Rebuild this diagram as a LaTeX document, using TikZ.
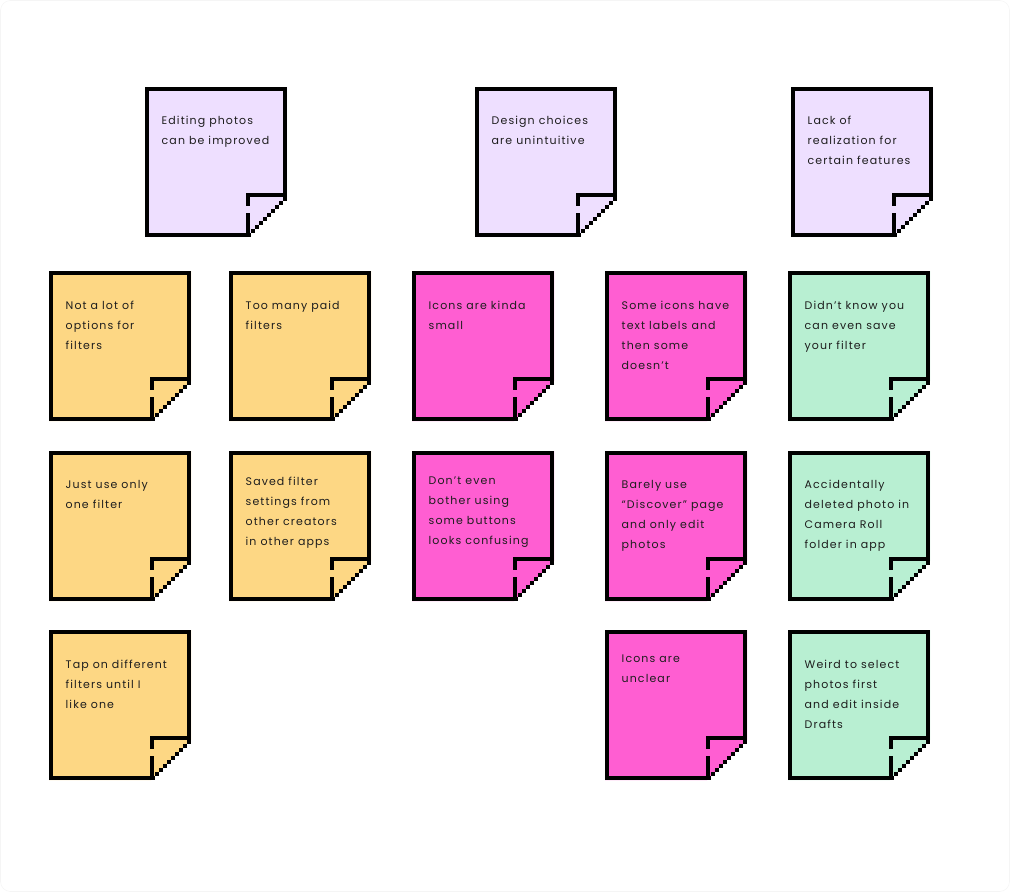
\documentclass[tikz,border=0pt]{standalone}
\usepackage{fontspec}
\setmainfont{Poppins}[LetterSpace=10]
\definecolor{lav}{HTML}{EEDFFF}
\definecolor{yel}{HTML}{FDD784}
\definecolor{pnk}{HTML}{FF5ED2}
\definecolor{grn}{HTML}{B8EFD2}
\definecolor{ink}{HTML}{1E1E1E}
\tikzset{
  notetext/.style={anchor=north west, inner sep=0pt, align=left, text=ink,
    font=\fontsize{11}{20}\selectfont},
  noteborder/.style={draw=black, line width=4pt, miter limit=10},
}
% #1 name, #2 X, #3 Y, #4 colour, #5 baseline offset, #6 text
\newcommand\stickynote[6]{%
  \fill[#4] (#2,#3) -- ({#2+142},#3) -- ({#2+142},{#3+110}) -- ({#2+102},{#3+150}) -- (#2,{#3+150}) -- cycle;
  \draw[noteborder] ({#2+140},{#3+110}) -- ({#2+140},{#3+2}) -- ({#2+2},{#3+2}) -- ({#2+2},{#3+148}) -- ({#2+105},{#3+148});
  \fill[black] ({#2+101},{#3+106}) rectangle ({#2+142},{#3+110});
  \fill[black] ({#2+101},{#3+106}) rectangle ({#2+105},{#3+119});
  \fill[black] ({#2+101},{#3+126}) rectangle ({#2+105},{#3+150});
  \foreach \k in {0,...,9}{\fill[black] ({#2+138-4*\k},{#3+110+4*\k}) rectangle +(4,4);}
  \node[notetext] (#1) at ({#2+16.5},{#3+#5-14}) {\rule{0pt}{14pt}#6};
}
\begin{document}
\begin{tikzpicture}[x=1pt,y=-1pt]
\useasboundingbox (0,0) rectangle (1010,892);
\draw[gray!8, line width=0.6pt, rounded corners=10pt] (0.5,0.5) rectangle (1009.5,891.5);
% top row
\stickynote{n1}{145}{87}{lav}{37}{Editing photos\\can be improved}
\stickynote{n2}{475}{87}{lav}{37}{Design choices\\are unintuitive}
\stickynote{n3}{791}{87}{lav}{37}{Lack of\\realization for\\certain features}
% row 2
\stickynote{a1}{49}{271}{yel}{38}{Not a lot of\\options for\\filters}
\stickynote{a2}{229}{271}{yel}{38}{Too many paid\\filters}
\stickynote{b1}{412}{271}{pnk}{38}{Icons are kinda\\small}
\stickynote{b2}{605}{271}{pnk}{38}{Some icons have\\text labels and\\then some\\doesn’t}
\stickynote{c1}{788}{271}{grn}{38}{Didn’t know you\\can even save\\your filter}
% row 3
\stickynote{a3}{49}{451}{yel}{37}{Just use only\\one filter}
\stickynote{a4}{229}{451}{yel}{34}{Saved filter\\settings from\\other creators\\in other apps}
\stickynote{b3}{412}{451}{pnk}{33}{Don’t even\\bother using\\some buttons\\looks confusing}
\stickynote{b4}{605}{451}{pnk}{37}{Barely use\\“Discover” page\\and only edit\\photos}
\stickynote{c2}{788}{451}{grn}{37}{Accidentally\\deleted photo in\\Camera Roll\\folder in app}
% row 4
\stickynote{a5}{49}{630}{yel}{38}{Tap on different\\filters until I\\like one}
\stickynote{b5}{605}{630}{pnk}{32}{Icons are\\unclear}
\stickynote{c3}{788}{630}{grn}{38}{Weird to select\\photos first\\and edit inside\\Drafts}
\end{tikzpicture}
\end{document}
